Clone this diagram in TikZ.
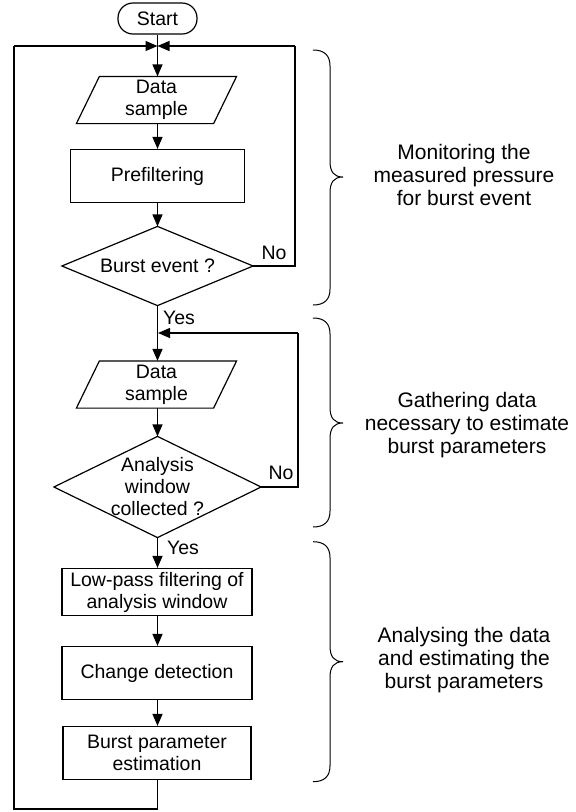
\documentclass[tikz,border=0pt]{standalone}
\usepackage{fontspec}
\setmainfont{Liberation Sans}
\usetikzlibrary{shapes.geometric,arrows.meta}
\newcommand\mybrace[3]{%
  \draw[bracestyle] (313,#1) .. controls (324,#1) and (330,{#1+5}) .. (330,{#1+16})
    -- (330,{#2-16}) .. controls (330,{#2-5}) and (334,#2) .. (343,#2)
    .. controls (334,#2) and (330,{#2+5}) .. (330,{#2+16})
    -- (330,{#3-16}) .. controls (330,{#3-5}) and (324,#3) .. (313,#3);}
\begin{document}
\begin{tikzpicture}[x=1pt,y=-1pt,line width=1.2pt,
  every node/.style={font=\fontsize{19.5}{22}\selectfont, inner sep=0pt, align=center},
  box/.style={draw, rectangle, minimum width=190pt, minimum height=53pt},
  startbox/.style={draw, rectangle, rounded corners=15pt, minimum width=79pt, minimum height=31pt},
  dsbox/.style={rectangle, minimum width=159pt, minimum height=46pt},
  dec/.style={rectangle, inner sep=0pt},
  arr/.style={-{Triangle[length=12pt,width=10pt]}},
  bracestyle/.style={line width=1pt},
  lbl/.style={font=\fontsize{21}{23.3}\selectfont}
]
\useasboundingbox (0,0) rectangle (576,812);

\node[startbox] (start) at (157.5,18.5) {Start};
\coordinate (j1) at (157.5,46);
\node[dsbox] (ds1) at (156.5,100) {Data\\sample};
\draw ([xshift=23pt]ds1.north west) -- (ds1.north east) -- ([xshift=-23pt]ds1.south east) -- (ds1.south west) -- cycle;
\node[box, minimum width=174pt] (pre) at (157.5,176) {Prefiltering};
\node[dec, minimum width=190pt, minimum height=78pt] (d1) at (157.5,266) {Burst event ?};
\draw (d1.north) -- (d1.east) -- (d1.south) -- (d1.west) -- cycle;
\coordinate (j2) at (158,333);
\node[dsbox] (ds2) at (156.5,384.5) {Data\\sample};
\draw ([xshift=23pt]ds2.north west) -- (ds2.north east) -- ([xshift=-23pt]ds2.south east) -- (ds2.south west) -- cycle;
\node[dec, minimum width=206pt, minimum height=100pt] (d2) at (157.5,487) {Analysis\\window\\collected ?};
\draw (d2.north) -- (d2.east) -- (d2.south) -- (d2.west) -- cycle;
\node[box, minimum height=47pt] (lp) at (157,592) {Low-pass filtering of\\analysis window};
\node[box] (cd) at (157,673) {Change detection};
\node[box, minimum width=188pt] (bp) at (157,753) {Burst parameter\\estimation};

\coordinate (r1) at (295,266);
\coordinate (r1t) at (295,46);
\coordinate (r2) at (298,487);
\coordinate (r2t) at (298,333);
\coordinate (b1) at (157,809);
\coordinate (b2) at (14,809);
\coordinate (b3) at (14,46);

\draw[arr] (start.south) -- (ds1.north -| start.south);
\draw[arr] (ds1.south -| pre.north) -- (pre.north);
\draw[arr] (pre.south) -- (d1.north);
\draw (d1.east) -- (r1) -- (r1t);
\draw[arr] (r1t) -- (j1);
\draw[arr] (d1.south) -- (ds2.north -| d1.south);
\draw[arr] (ds2.south -| d1.south) -- (d2.north);
\draw (d2.east) -- (r2) -- (r2t);
\draw[arr] (r2t) -- (j2);
\draw[arr] (d2.south) -- (lp.north -| d2.south);
\draw[arr] (lp.south -| d2.south) -- (cd.north -| d2.south);
\draw[arr] (cd.south -| d2.south) -- (bp.north -| d2.south);
\draw (bp.south -| d2.south) -- (b1 -| d2.south) -- (b2) -- (b3);
\draw[arr] (b3) -- (j1);

\node (no1) at (274,253) {No};
\node (yes1) at (179,318) {Yes};
\node (no2) at (281,473) {No};
\node (yes2) at (183,548) {Yes};

\mybrace{50}{177}{305}
\mybrace{318}{423}{527}
\mybrace{541.7}{661.7}{781.7}

\node[lbl] (t1) at (464,175) {Monitoring the\\measured pressure\\for burst event};
\node[lbl] (t2) at (467,425) {Gathering data\\necessary to estimate\\burst parameters};
\node[lbl] (t3) at (464,660) {Analysing the data\\and estimating the\\burst parameters};
\end{tikzpicture}
\end{document}
